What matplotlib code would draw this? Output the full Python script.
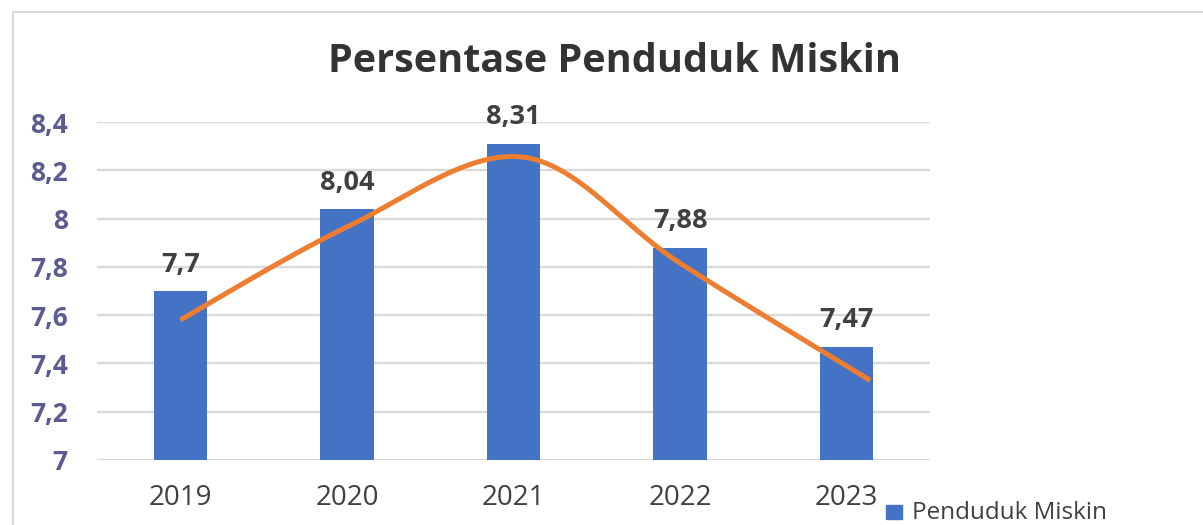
import numpy as np
import matplotlib.pyplot as plt
from matplotlib.ticker import FuncFormatter
from matplotlib.patches import Rectangle

# data
years = ['2019', '2020', '2021', '2022', '2023']
persen = [7.7, 8.04, 8.31, 7.88, 7.47]
# orange curve (x in category units)
garis_x = [0, 1, 2.05, 3, 4.14]
garis_y = [7.58, 7.965, 8.255, 7.815, 7.33]

biru = '#4472C4'
oranye = '#ED7D31'
abu = '#D9D9D9'
teks = '#404040'
font = 'Open Sans'


def smooth(xs, ys, n=40):
    "catmull-rom style smoothing like the excel smoothed line"
    p = np.column_stack([xs, ys])
    p = np.vstack([p[0], p, p[-1]])
    out = []
    for i in range(1, len(p) - 2):
        p0, p1, p2, p3 = p[i - 1], p[i], p[i + 1], p[i + 2]
        c1 = p1 + (p2 - p0) / 6
        c2 = p2 - (p3 - p1) / 6
        t = np.linspace(0, 1, n)[:, None]
        seg = (1 - t) ** 3 * p1 + 3 * (1 - t) ** 2 * t * c1 + 3 * (1 - t) * t ** 2 * c2 + t ** 3 * p2
        out.append(seg)
    out = np.vstack(out)
    return out[:, 0], out[:, 1]


fig = plt.figure(figsize=(12.03, 5.25), dpi=100)
ax = fig.add_axes([97 / 1203, 1 - 460 / 525, 833 / 1203, 338 / 525])

x = np.arange(len(years))
ax.bar(x, persen, width=0.32, color=biru, zorder=2, label='Penduduk Miskin')
for xi, v in zip(x, persen):
    ax.text(xi, v + 0.055, ('%g' % v).replace('.', ','), ha='center', va='bottom',
            fontsize=19.5, fontweight='bold', color=teks, family=font)

sx, sy = smooth(garis_x, garis_y)
ax.plot(sx, sy, color=oranye, lw=3.6, solid_capstyle='butt', zorder=3)

ax.set_xlim(-0.5, 4.5)
ax.set_ylim(7, 8.4)
ax.set_yticks(np.arange(7, 8.41, 0.2))
ax.yaxis.set_major_formatter(FuncFormatter(lambda v, p: ('%g' % round(v, 1)).replace('.', ',')))
ax.grid(axis='y', color=abu, lw=1.6, zorder=0)
ax.set_xticks(x)
ax.set_xticklabels(years)
for s in ax.spines.values():
    s.set_visible(False)
ax.tick_params(length=0)
ax.tick_params(axis='y', pad=21, labelsize=19, labelcolor='#5B5B8F')
ax.tick_params(axis='x', pad=17, labelsize=20, labelcolor=teks)
for lab in ax.get_yticklabels():
    lab.set_fontweight('bold')
    lab.set_family(font)
for lab in ax.get_xticklabels():
    lab.set_family(font)

fig.text(615 / 1203, 1 - 62 / 525, 'Persentase Penduduk Miskin', ha='center', va='center',
         fontsize=28.5, fontweight='bold', color='#333333', family=font)

# legend at bottom right
fig.patches.append(Rectangle((886 / 1203, 1 - 519 / 525), 16 / 1203, 14 / 525,
                             transform=fig.transFigure, color=biru))
fig.text(912 / 1203, 1 - 513 / 525, 'Penduduk Miskin', ha='left', va='center',
         fontsize=17.5, color=teks, family=font)

# chart border
fig.patches.append(Rectangle((13 / 1203, -0.1), 1.2, 1 - 12 / 525 + 0.1,
                             transform=fig.transFigure, fill=False, ec=abu, lw=1.5))

fig.savefig('out.png', dpi=100, facecolor='white')
